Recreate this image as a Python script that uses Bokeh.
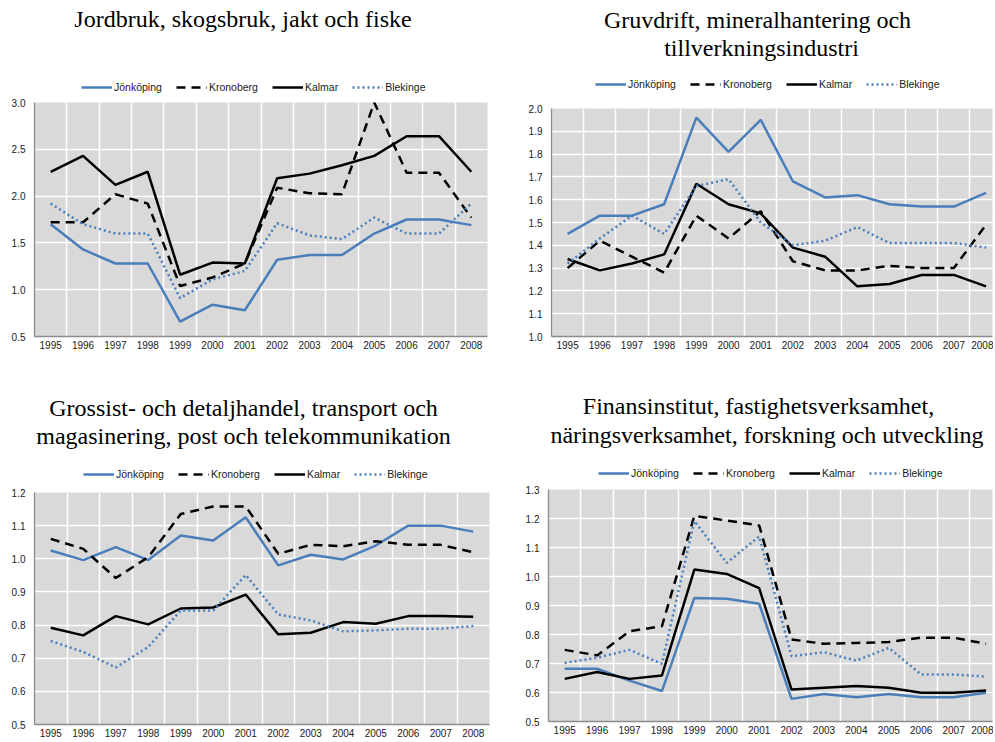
from bokeh.plotting import figure
from bokeh.layouts import column, row
from bokeh.models import FixedTicker, Legend, LegendItem, Range1d, PrintfTickFormatter
from bokeh.core.properties import value
from bokeh.embed import file_html
from bokeh.resources import INLINE

years = list(range(1995, 2009))
series_names = ["Jönköping", "Kronoberg", "Kalmar", "Blekinge"]

# Panel 1: Jordbruk, skogsbruk, jakt och fiske
jord_jonkoping = [1.70, 1.43, 1.28, 1.28, 0.66, 0.84, 0.78, 1.32, 1.37, 1.37, 1.60, 1.75, 1.75, 1.69]
jord_kronoberg = [1.72, 1.72, 2.02, 1.92, 1.04, 1.13, 1.28, 2.09, 2.03, 2.02, 3.00, 2.25, 2.25, 1.77]
jord_kalmar = [2.26, 2.43, 2.12, 2.26, 1.16, 1.29, 1.28, 2.19, 2.24, 2.33, 2.43, 2.64, 2.64, 2.26]
jord_blekinge = [1.92, 1.70, 1.60, 1.60, 0.91, 1.11, 1.20, 1.71, 1.58, 1.54, 1.77, 1.60, 1.60, 1.92]

# Panel 2: Gruvdrift, mineralhantering och tillverkningsindustri
gruv_jonkoping = [1.45, 1.53, 1.53, 1.58, 1.96, 1.81, 1.95, 1.68, 1.61, 1.62, 1.58, 1.57, 1.57, 1.63]
gruv_kronoberg = [1.30, 1.42, 1.35, 1.28, 1.53, 1.43, 1.55, 1.33, 1.29, 1.29, 1.31, 1.30, 1.30, 1.49]
gruv_kalmar = [1.34, 1.29, 1.32, 1.36, 1.67, 1.58, 1.54, 1.39, 1.35, 1.22, 1.23, 1.27, 1.27, 1.22]
gruv_blekinge = [1.32, 1.43, 1.53, 1.45, 1.66, 1.69, 1.50, 1.40, 1.42, 1.48, 1.41, 1.41, 1.41, 1.39]

# Panel 3: Grossist- och detaljhandel, transport ...
gros_jonkoping = [1.025, 0.996, 1.035, 0.996, 1.070, 1.055, 1.125, 0.980, 1.012, 0.998, 1.040, 1.100, 1.100, 1.082]
gros_kronoberg = [1.060, 1.030, 0.942, 1.005, 1.135, 1.158, 1.158, 1.015, 1.042, 1.038, 1.053, 1.042, 1.042, 1.020]
gros_kalmar = [0.792, 0.769, 0.827, 0.802, 0.850, 0.853, 0.892, 0.772, 0.777, 0.809, 0.804, 0.827, 0.827, 0.825]
gros_blekinge = [0.752, 0.719, 0.672, 0.734, 0.844, 0.844, 0.951, 0.832, 0.814, 0.781, 0.784, 0.789, 0.789, 0.797]

# Panel 4: Finansinstitut, fastighetsverksamhet, ...
fin_jonkoping = [0.682, 0.682, 0.641, 0.605, 0.926, 0.923, 0.906, 0.578, 0.595, 0.584, 0.595, 0.584, 0.584, 0.599]
fin_kronoberg = [0.747, 0.728, 0.811, 0.829, 1.209, 1.193, 1.176, 0.783, 0.768, 0.771, 0.774, 0.789, 0.789, 0.768]
fin_kalmar = [0.647, 0.671, 0.647, 0.659, 1.024, 1.009, 0.960, 0.610, 0.616, 0.622, 0.616, 0.599, 0.599, 0.607]
fin_blekinge = [0.702, 0.720, 0.747, 0.699, 1.191, 1.047, 1.138, 0.725, 0.739, 0.710, 0.754, 0.662, 0.662, 0.655]

titles = [
    ["Jordbruk, skogsbruk, jakt och fiske"],
    ["Gruvdrift, mineralhantering och", "tillverkningsindustri"],
    ["Grossist- och detaljhandel, transport och", "magasinering, post och telekommunikation"],
    ["Finansinstitut, fastighetsverksamhet,", "näringsverksamhet, forskning och utveckling"],
]

y_ticks_1 = [0.5, 1.0, 1.5, 2.0, 2.5, 3.0]
y_ticks_2 = [1.0, 1.1, 1.2, 1.3, 1.4, 1.5, 1.6, 1.7, 1.8, 1.9, 2.0]
y_ticks_3 = [0.5, 0.6, 0.7, 0.8, 0.9, 1.0, 1.1, 1.2]
y_ticks_4 = [0.5, 0.6, 0.7, 0.8, 0.9, 1.0, 1.1, 1.2, 1.3]

BLUE = "#4A7EBB"
styles = {
    "Jönköping": dict(line_color=BLUE, line_dash="solid"),
    "Kronoberg": dict(line_color="black", line_dash="9 6"),
    "Kalmar": dict(line_color="black", line_dash="solid"),
    "Blekinge": dict(line_color=BLUE, line_dash="2 3"),
}
LINE_W = 2.5

SANS = "Liberation Sans"
SERIF = "Liberation Serif"


def make_header(series, width, height, mbl, mbr, title_xs, title_ys, title_lines, legend_xy):
    """Title text and legend, in a blank strip figure whose data units are pixels.
    Its frame lines up with the chart's frame below it (the column aligns them).
    The series are drawn here too (off the visible range) so the legend has live renderers."""
    h = figure(width=width, height=height, output_backend="svg", toolbar_location=None,
               title=None, x_axis_location=None, y_axis_location=None,
               x_range=Range1d(mbl, width - mbr), y_range=Range1d(0, height),
               min_border_left=mbl, min_border_right=mbr, min_border_top=0, min_border_bottom=0)
    h.grid.visible = False
    h.outline_line_color = None
    h.background_fill_color = "white"
    h.border_fill_color = "white"
    h.text(x=title_xs, y=title_ys, text=title_lines,
           text_font=value(SERIF), text_font_size="24px", text_color="black",
           text_align="center", text_baseline="alphabetic")
    items = []
    for name, vals in zip(series_names, series):
        r = h.line(years, vals, line_width=LINE_W, **styles[name])
        items.append(LegendItem(label=name, renderers=[r]))
    legend = Legend(items=items, orientation="horizontal", location=legend_xy,
                    glyph_width=31, glyph_height=12, label_height=12,
                    label_standoff=2, spacing=14, margin=0, padding=0,
                    label_text_font=SANS, label_text_font_size="10.5px",
                    label_text_color="#1A1A1A",
                    background_fill_alpha=0, border_line_color=None)
    h.add_layout(legend)
    return h


def make_chart(series, y_ticks, width, height, mbl, mbr, mbt, mbb, x_end):
    p = figure(width=width, height=height, output_backend="svg", toolbar_location=None,
               x_range=Range1d(1994.5, x_end),
               y_range=Range1d(y_ticks[0], y_ticks[-1]),
               min_border_left=mbl, min_border_right=mbr,
               min_border_top=mbt, min_border_bottom=mbb)
    p.background_fill_color = "#D9D9D9"
    p.border_fill_color = "white"
    p.outline_line_color = None

    for name, vals in zip(series_names, series):
        p.line(years, vals, line_width=LINE_W, **styles[name])

    p.xaxis.ticker = FixedTicker(ticks=years)
    p.yaxis.ticker = FixedTicker(ticks=y_ticks)
    p.yaxis.formatter = PrintfTickFormatter(format="%.1f")
    for ax in (p.xaxis[0], p.yaxis[0]):
        ax.major_tick_line_color = None
        ax.minor_tick_line_color = None
        ax.major_tick_out = 0
        ax.major_tick_in = 0
        ax.axis_line_color = "#8C8C8C"
        ax.axis_line_width = 1.3
        ax.major_label_text_font = SANS
        ax.major_label_text_font_size = "10px"
        ax.major_label_text_color = "#1A1A1A"
    p.xaxis.major_label_standoff = 4
    p.yaxis.major_label_standoff = 9

    p.xgrid.ticker = FixedTicker(ticks=[y + 0.5 for y in years])
    p.xgrid.grid_line_color = "white"
    p.xgrid.grid_line_width = 1.5
    p.ygrid.grid_line_color = "white"
    p.ygrid.grid_line_width = 1.5
    return p


W_LEFT, W_RIGHT = 520, 473

s1 = [jord_jonkoping, jord_kronoberg, jord_kalmar, jord_blekinge]
s2 = [gruv_jonkoping, gruv_kronoberg, gruv_kalmar, gruv_blekinge]
s3 = [gros_jonkoping, gros_kronoberg, gros_kalmar, gros_blekinge]
s4 = [fin_jonkoping, fin_kronoberg, fin_kalmar, fin_blekinge]

h1 = make_header(s1, W_LEFT, 94, 34, 33, [242.5], [76], titles[0], (47, 1))
c1 = make_chart(s1, y_ticks_1, W_LEFT, 286, 34, 33, 8, 44, 2008.5)

h2 = make_header(s2, W_RIGHT, 100, 31, 1, [237, 241], [81, 53], titles[1], (44, 10))
c2 = make_chart(s2, y_ticks_2, W_RIGHT, 280, 31, 1, 8, 44, 2008.2)

h3 = make_header(s3, W_LEFT, 104, 34, 31, [243, 243], [77, 49], titles[2], (49, 4))
c3 = make_chart(s3, y_ticks_3, W_LEFT, 256, 34, 31, 8, 16, 2008.5)

h4 = make_header(s4, W_RIGHT, 101, 28, 1, [238, 246.5], [76, 47], titles[3], (50, 2))
c4 = make_chart(s4, y_ticks_4, W_RIGHT, 259, 28, 1, 8, 19, 2008.2)

layout = column(row(column(h1, c1), column(h2, c2)),
                row(column(h3, c3), column(h4, c4)))
open("out.html", "w").write(file_html(layout, INLINE))
